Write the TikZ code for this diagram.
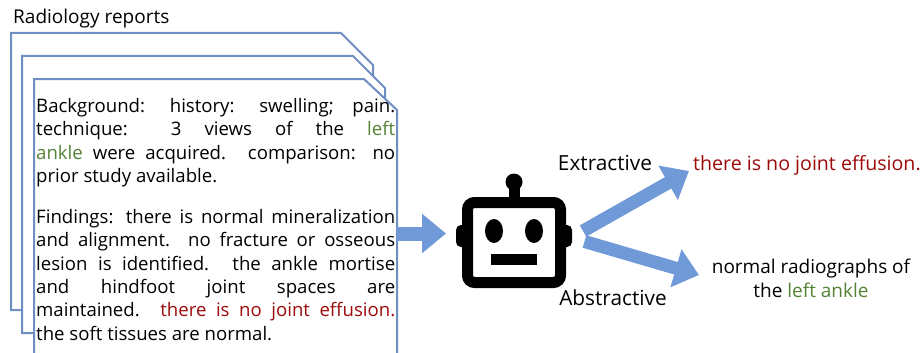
\documentclass[tikz,border=0pt]{standalone}
\usepackage{fontspec}
\setmainfont{Open Sans}
\usetikzlibrary{arrows.meta}
\definecolor{pageblue}{HTML}{6F8FC4}
\definecolor{arrowblue}{HTML}{7099D8}
\definecolor{termred}{HTML}{9C0A0A}
\definecolor{termgreen}{HTML}{548235}
\newcommand{\lft}{\textcolor{termgreen}}
\newcommand{\eff}{\textcolor{termred}}
\tikzset{
  page/.style={draw=pageblue, line width=2pt, fill=white},
  reporttext/.style={anchor=north west, inner sep=0pt, text width=359pt, align=justify, font=\fontsize{18.6}{23.4}\selectfont},
  plainlabel/.style={inner sep=0pt, font=\fontsize{19}{24}\selectfont},
  methodlabel/.style={inner sep=0pt, font=\fontsize{20.8}{24}\selectfont},
  blockarrow/.style={draw=arrowblue, line width=13pt, -{Triangle[length=24pt,width=38pt]}},
  robotpart/.style={fill=black, draw=none}
}
\begin{document}
\begin{tikzpicture}[x=1pt,y=-1pt]
\useasboundingbox (0,0) rectangle (923,353);

% Stack of pages
\draw[page] (11,33) -- (341,33) -- (373,65) -- (373,100) -- (373,310) -- (11,310) -- cycle;
\draw[page] (22,56) -- (353,56) -- (385,88) -- (385,333) -- (22,333) -- cycle;
\draw[page] (34,79) -- (364,79) -- (397,110) -- (397,360) -- (34,360) -- cycle;

% Report text
\node[plainlabel, anchor=west] (title) at (13,19) {Radiology reports};
\node[reporttext] (background) at (36,98) {Background: history: swelling; pain.\linebreak
technique: 3 views of the \lft{left}\linebreak \lft{ankle} were acquired. comparison: no\linebreak
prior study available.};
\node[reporttext] (findings) at (36,209) {Findings: there is normal mineralization\linebreak
and alignment. no fracture or osseous\linebreak
lesion is identified. the ankle mortise\linebreak
and hindfoot joint spaces are\linebreak
maintained. \eff{there is no joint effusion.}\linebreak
the soft tissues are normal.};

% Robot
\fill[robotpart] (514,182) circle (8.5);
\fill[robotpart] (508.5,182) rectangle (519.5,200);
\fill[robotpart, rounded corners=5pt] (456,225) rectangle (470,247);
\fill[robotpart, rounded corners=5pt] (558,225) rectangle (572,247);
\node[draw=black, fill=white, line width=11pt, rounded corners=7pt, minimum width=93pt, minimum height=80pt, inner sep=0pt] (robot) at (514,242.5) {};
\fill[robotpart] (494,231) ellipse (9 and 12);
\fill[robotpart] (534,231) ellipse (9 and 12);
\node[robotpart, minimum width=46pt, minimum height=11pt, inner sep=0pt] (mouth) at (514,259.5) {};

% Summaries
\node[methodlabel] (extractive) at (605,163) {Extractive};
\node[methodlabel] (abstractive) at (613,298) {Abstractive};
\node[plainlabel, anchor=west, text=termred, font=\fontsize{19.6}{24}\selectfont] (extsum) at (693,165) {there is no joint effusion.};
\node[plainlabel, align=center] (abssum) at (811,278) {normal radiographs of\\the \lft{left ankle}};

% Block arrows
\coordinate (reportout) at (397,233.5);
\coordinate (robotin) at (446,233.5);
\coordinate (extstart) at (583,231);
\coordinate (extend) at (689,171);
\coordinate (absstart) at (584.5,241.5);
\coordinate (absend) at (699,275);
\draw[blockarrow, line width=14pt] (reportout) -- (robotin);
\draw[blockarrow] (extstart) -- (extend);
\draw[blockarrow] (absstart) -- (absend);
\end{tikzpicture}
\end{document}
